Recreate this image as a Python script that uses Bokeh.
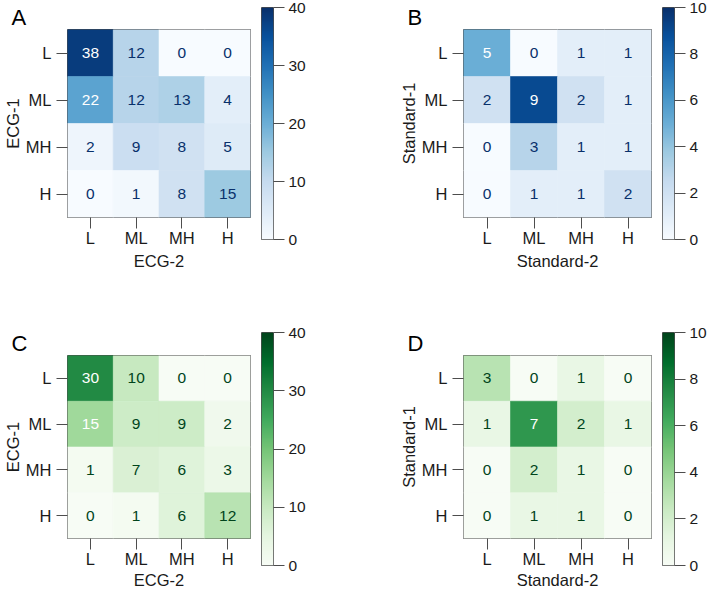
import numpy as np
from bokeh.plotting import figure
from bokeh.models import (FactorRange, Range1d, LinearColorMapper, ColumnDataSource,
                          FixedTicker)
from bokeh.layouts import row, column
from bokeh.transform import transform
from bokeh.palettes import Blues256, Greens256
from bokeh.core.properties import value
from bokeh.embed import file_html
from bokeh.resources import INLINE

# Rating levels shared by both raters (rows: rater 1, columns: rater 2)
levels = ["L", "ML", "MH", "H"]

ecg_counts_a = [[38, 12, 0, 0],
                [22, 12, 13, 4],
                [2, 9, 8, 5],
                [0, 1, 8, 15]]
standard_counts_b = [[5, 0, 1, 1],
                     [2, 9, 2, 1],
                     [0, 3, 1, 1],
                     [0, 1, 1, 2]]
ecg_counts_c = [[30, 10, 0, 0],
                [15, 9, 9, 2],
                [1, 7, 6, 3],
                [0, 1, 6, 12]]
standard_counts_d = [[3, 0, 1, 0],
                     [1, 7, 2, 1],
                     [0, 2, 1, 0],
                     [0, 1, 1, 0]]

ecg_ticks = [0, 10, 20, 30, 40]
standard_ticks = [0, 2, 4, 6, 8, 10]

FONT = "Liberation Sans"
INK = "#1a1a1a"
EDGE = "#4d4d4d"
AXIS_SIZE = "16.5px"
NUM_SIZE = "15.5px"


def _lum(hex_color):
    r, g, b = (int(hex_color[i:i + 2], 16) for i in (1, 3, 5))
    return 0.299 * r + 0.587 * g + 0.114 * b


def light_to_dark(palette):
    pal = list(palette)
    return pal if _lum(pal[0]) > _lum(pal[-1]) else pal[::-1]


def style_axis(axis, tick_out, standoff, label_size=AXIS_SIZE):
    axis.axis_line_color = None
    axis.major_tick_line_color = EDGE
    axis.major_tick_out = tick_out
    axis.major_tick_in = 0
    axis.minor_tick_line_color = None
    axis.major_label_text_font = FONT
    axis.major_label_text_font_size = label_size
    axis.major_label_text_color = INK
    axis.major_label_standoff = standoff
    axis.axis_label_text_font = FONT
    axis.axis_label_text_font_size = AXIS_SIZE
    axis.axis_label_text_font_style = "normal"
    axis.axis_label_text_color = INK


def heatmap(counts, palette, vmax, xlabel, ylabel, tag, width, height,
            left, right, top, bottom, xlabel_gap):
    pal = light_to_dark(palette)
    mapper = LinearColorMapper(palette=pal, low=0, high=vmax)
    flat = [v for r in counts for v in r]
    thresh = (max(flat) + min(flat)) / 2.0
    xs, ys, vals, txt, tcol = [], [], [], [], []
    for i, r in enumerate(counts):
        for j, v in enumerate(r):
            xs.append(levels[j])
            ys.append(levels[i])
            vals.append(v)
            txt.append(str(v))
            tcol.append("white" if v >= thresh else pal[-1])
    src = ColumnDataSource(dict(x=xs, y=ys, v=vals, t=txt, c=tcol))

    p = figure(width=width, height=height, title=tag,
               x_range=FactorRange(*levels), y_range=FactorRange(*levels[::-1]),
               output_backend="svg", toolbar_location=None, frame_align=False,
               min_border_left=left, min_border_right=right,
               min_border_top=top, min_border_bottom=bottom)
    p.rect(x="x", y="y", width=1, height=1, source=src,
           fill_color=transform("v", mapper), line_color=transform("v", mapper),
           line_width=0.6)
    p.text(x="x", y="y", text="t", source=src, text_align="center",
           text_baseline="middle", text_font=value(FONT),
           text_font_size=value(NUM_SIZE), text_color="c")
    p.xgrid.visible = False
    p.ygrid.visible = False
    p.outline_line_color = EDGE
    p.outline_line_width = 1
    p.background_fill_color = "white"
    p.border_fill_color = "white"

    # panel tag in the top-left corner
    p.title.text_font = FONT
    p.title.text_font_size = "22px"
    p.title.text_font_style = "normal"
    p.title.text_color = "black"
    p.title.align = "left"
    p.title.offset = -56
    p.title.standoff = 0

    style_axis(p.xaxis[0], 11, 0)
    style_axis(p.yaxis[0], 11, 5)
    p.xaxis.axis_label = xlabel
    p.yaxis.axis_label = ylabel
    p.xaxis.axis_label_standoff = xlabel_gap
    p.yaxis.axis_label_standoff = 1
    return p


def colorbar(palette, vmax, ticks, width, height, left, right, top, bottom):
    mapper = LinearColorMapper(palette=light_to_dark(palette), low=0, high=vmax)
    p = figure(width=width, height=height,
               x_range=Range1d(0, 1), y_range=Range1d(0, vmax),
               x_axis_location=None, y_axis_location="right",
               output_backend="svg", toolbar_location=None, frame_align=False,
               min_border_left=left, min_border_right=right,
               min_border_top=top, min_border_bottom=bottom)
    gradient = np.linspace(0, vmax, 256).reshape(-1, 1)
    p.image(image=[gradient], x=0, y=0, dw=1, dh=vmax, color_mapper=mapper)
    p.xgrid.visible = False
    p.ygrid.visible = False
    p.outline_line_color = EDGE
    p.outline_line_width = 1
    p.border_fill_color = "white"
    ax = p.yaxis[0]
    style_axis(ax, 11, 4, NUM_SIZE)
    ax.ticker = FixedTicker(ticks=ticks)
    return p


fig_a = heatmap(ecg_counts_a, Blues256, 40, "ECG-2", "ECG-1", "A",
                255, 290, 62, 5, 29, 73, 2)
bar_a = colorbar(Blues256, 40, ecg_ticks, 95, 290, 6, 77, 7, 51)
fig_b = heatmap(standard_counts_b, Blues256, 10, "Standard-2", "Standard-1", "B",
                307, 290, 113, 6, 29, 73, 2)
bar_b = colorbar(Blues256, 10, standard_ticks, 52, 290, 5, 35, 7, 51)

fig_c = heatmap(ecg_counts_c, Greens256, 40, "ECG-2", "ECG-1", "C",
                255, 301, 62, 5, 65, 48, 0)
bar_c = colorbar(Greens256, 40, ecg_ticks, 95, 301, 6, 77, 42, 26)
fig_d = heatmap(standard_counts_d, Greens256, 10, "Standard-2", "Standard-1", "D",
                307, 301, 113, 6, 65, 48, 0)
bar_d = colorbar(Greens256, 10, standard_ticks, 52, 301, 5, 35, 42, 26)

layout = column(row(fig_a, bar_a, fig_b, bar_b),
                row(fig_c, bar_c, fig_d, bar_d))

open("out.html", "w").write(file_html(layout, INLINE))
